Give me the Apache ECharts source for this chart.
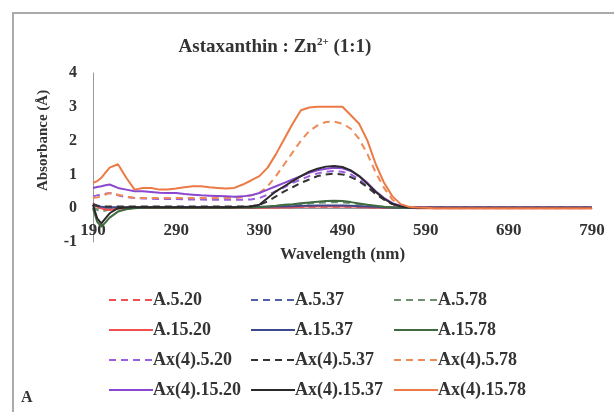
<!DOCTYPE html>
<html>
<head>
<meta charset="utf-8">
<script src="https://cdn.jsdelivr.net/npm/echarts@6/dist/echarts.min.js"></script>
<style>html,body{margin:0;padding:0;background:#fff}#c{width:614px;height:412px}</style>
</head>
<body>
<div id="c"></div>
<script>
// Wavelength (nm)
var wavelengths = [190,195,200,205,210,220,230,240,250,260,270,280,290,300,310,320,330,340,350,360,370,380,390,400,410,420,430,440,450,460,470,480,490,500,510,520,530,540,550,560,570,580,590,600,650,700,750,790];

var A_5_20      = [0.10,0.05,0.02,0.02,0.02,0.02,0.02,0.02,0.02,0.02,0.02,0.02,0.02,0.02,0.02,0.02,0.02,0.02,0.02,0.02,0.02,0.02,0.02,0.02,0.03,0.03,0.03,0.04,0.04,0.04,0.04,0.04,0.04,0.04,0.03,0.03,0.02,0.02,0.01,0.01,0.01,0.01,0.01,0.01,0.01,0.01,0.01,0.01];
var A_5_37      = [0.10,0.06,0.03,0.03,0.02,0.02,0.02,0.02,0.02,0.02,0.02,0.02,0.02,0.02,0.02,0.02,0.02,0.02,0.02,0.02,0.02,0.02,0.03,0.03,0.04,0.04,0.05,0.05,0.06,0.06,0.06,0.06,0.06,0.05,0.05,0.04,0.03,0.02,0.01,0.01,0.01,0.01,0.01,0.01,0.01,0.01,0.01,0.01];
var A_5_78      = [0.05,-0.05,-0.10,-0.07,-0.04,0.00,0.01,0.01,0.01,0.01,0.01,0.01,0.01,0.01,0.01,0.01,0.01,0.01,0.01,0.01,0.02,0.02,0.03,0.04,0.06,0.08,0.10,0.12,0.14,0.16,0.17,0.18,0.17,0.15,0.12,0.08,0.05,0.03,0.02,0.01,0.01,0.01,0.01,0.01,0.01,0.01,0.01,0.01];
var A_15_20     = [0.15,0.05,0.00,-0.04,-0.05,-0.02,0.00,0.01,0.01,0.01,0.01,0.01,0.01,0.01,0.01,0.01,0.01,0.01,0.01,0.01,0.01,0.01,0.01,0.02,0.02,0.03,0.03,0.04,0.05,0.05,0.05,0.05,0.05,0.05,0.04,0.03,0.02,0.02,0.01,0.01,0.01,0.00,0.00,0.00,0.00,0.00,0.00,0.00];
var A_15_37     = [0.12,0.08,0.04,0.03,0.03,0.03,0.03,0.03,0.03,0.03,0.03,0.03,0.03,0.03,0.03,0.03,0.03,0.03,0.03,0.03,0.03,0.03,0.04,0.04,0.05,0.05,0.06,0.07,0.07,0.08,0.08,0.08,0.08,0.07,0.06,0.05,0.04,0.03,0.02,0.01,0.01,0.01,0.01,0.01,0.01,0.01,0.01,0.01];
var A_15_78     = [0.00,-0.40,-0.55,-0.42,-0.28,-0.10,-0.03,0.00,0.01,0.01,0.01,0.01,0.01,0.01,0.01,0.01,0.01,0.01,0.01,0.02,0.02,0.02,0.03,0.05,0.07,0.10,0.12,0.15,0.17,0.19,0.21,0.22,0.21,0.18,0.14,0.10,0.07,0.04,0.02,0.01,0.01,0.01,0.01,0.01,0.01,0.01,0.01,0.01];
var Ax4_5_20    = [0.35,0.38,0.40,0.43,0.45,0.38,0.33,0.30,0.29,0.28,0.27,0.27,0.27,0.26,0.26,0.26,0.25,0.25,0.25,0.25,0.25,0.26,0.30,0.40,0.50,0.62,0.75,0.85,0.95,1.03,1.08,1.10,1.08,1.00,0.85,0.65,0.45,0.27,0.13,0.05,0.02,0.01,0.01,0.01,0.01,0.01,0.01,0.01];
var Ax4_5_37    = [0.10,0.07,0.05,0.05,0.05,0.05,0.05,0.05,0.05,0.05,0.05,0.05,0.05,0.05,0.05,0.05,0.05,0.05,0.05,0.05,0.05,0.06,0.10,0.20,0.35,0.50,0.62,0.75,0.85,0.95,1.00,1.02,1.00,0.92,0.80,0.62,0.42,0.25,0.12,0.05,0.02,0.01,0.01,0.01,0.01,0.01,0.01,0.01];
var Ax4_5_78    = [0.30,0.32,0.35,0.40,0.45,0.40,0.35,0.30,0.30,0.30,0.30,0.30,0.30,0.30,0.30,0.30,0.30,0.30,0.30,0.30,0.33,0.38,0.45,0.65,0.95,1.30,1.65,2.00,2.28,2.45,2.55,2.56,2.50,2.35,2.05,1.60,1.05,0.60,0.25,0.08,0.02,0.01,0.01,0.00,0.00,0.00,0.00,0.00];
var Ax4_15_20   = [0.60,0.63,0.65,0.68,0.70,0.60,0.55,0.50,0.50,0.48,0.46,0.45,0.45,0.42,0.40,0.38,0.37,0.36,0.35,0.34,0.35,0.38,0.45,0.55,0.65,0.75,0.85,0.95,1.05,1.12,1.17,1.20,1.18,1.10,0.95,0.75,0.50,0.30,0.15,0.07,0.03,0.02,0.02,0.02,0.02,0.02,0.02,0.02];
var Ax4_15_37   = [0.10,-0.30,-0.45,-0.30,-0.15,0.00,0.02,0.03,0.03,0.03,0.03,0.03,0.03,0.03,0.03,0.03,0.03,0.03,0.03,0.03,0.04,0.05,0.10,0.30,0.50,0.65,0.80,0.95,1.08,1.17,1.23,1.25,1.22,1.12,0.95,0.72,0.48,0.28,0.13,0.05,0.02,0.01,0.01,0.01,0.01,0.01,0.01,0.01];
var Ax4_15_78   = [0.75,0.80,0.90,1.05,1.20,1.30,0.90,0.55,0.60,0.60,0.55,0.55,0.58,0.62,0.65,0.65,0.62,0.60,0.58,0.60,0.70,0.82,0.95,1.20,1.60,2.05,2.50,2.90,2.98,3.00,3.00,3.00,3.00,2.75,2.50,2.00,1.30,0.75,0.35,0.12,0.04,0.02,0.01,0.00,0.00,0.00,0.00,0.00];

var seriesNames = ['A.5.20','A.5.37','A.5.78','A.15.20','A.15.37','A.15.78','Ax(4).5.20','Ax(4).5.37','Ax(4).5.78','Ax(4).15.20','Ax(4).15.37','Ax(4).15.78'];
var seriesValues = [A_5_20,A_5_37,A_5_78,A_15_20,A_15_37,A_15_78,Ax4_5_20,Ax4_5_37,Ax4_5_78,Ax4_15_20,Ax4_15_37,Ax4_15_78];
var seriesColors = ['#f25050','#5060a8','#6e906e','#f25050','#3c4a8c','#3f6b3f','#9a5ee0','#333333','#ee8a55','#8a48d0','#2a2a2a','#ec7a45'];
var seriesDashed = [true,true,true,false,false,false,true,true,true,false,false,false];

var FONT = '"Liberation Serif","DejaVu Serif",serif';

var series = seriesNames.map(function (n, i) {
  return {
    name: n,
    type: 'line',
    symbol: 'none',
    smooth: false,
    z: 2 + i,
    data: wavelengths.map(function (w, k) { return [w, seriesValues[i][k]]; }),
    lineStyle: { color: seriesColors[i], width: 2, type: seriesDashed[i] ? [7, 5] : 'solid' },
    itemStyle: { color: seriesColors[i] }
  };
});

function legendCol(left, names) {
  return {
    left: left, top: 286, orient: 'vertical',
    itemWidth: 44, itemHeight: 14, itemGap: 12,
    itemStyle: { opacity: 0 },
    data: names,
    textStyle: { fontFamily: FONT, fontWeight: 'bold', fontSize: 18, color: '#333', padding: [0,0,0,-5] },
    selectedMode: false
  };
}

var chart = echarts.init(document.getElementById('c'), null, { renderer: 'canvas' });
chart.setOption({
  animation: false,
  backgroundColor: '#fff',
  title: {
    text: 'Astaxanthin : Zn{sup|2+} (1:1)',
    left: 270, top: 32, textAlign: 'center',
    textStyle: {
      fontFamily: FONT, fontWeight: 'bold', fontSize: 19, color: '#333',
      rich: { sup: { fontFamily: FONT, fontWeight: 'bold', fontSize: 11, color: '#333', verticalAlign: 'top', padding: [0,0,10,0] } }
    }
  },
  grid: { left: 93, right: 22, top: 73, bottom: 170, containLabel: false },
  legend: [
    legendCol(103, ['A.5.20','A.15.20','Ax(4).5.20','Ax(4).15.20']),
    legendCol(245, ['A.5.37','A.15.37','Ax(4).5.37','Ax(4).15.37']),
    legendCol(388, ['A.5.78','A.15.78','Ax(4).5.78','Ax(4).15.78'])
  ],
  xAxis: {
    type: 'value', min: 190, max: 790, interval: 100,
    offset: -33.5,
    name: 'Wavelength (nm)', nameLocation: 'middle', nameGap: 38,
    nameTextStyle: { fontFamily: FONT, fontWeight: 'bold', fontSize: 17, color: '#333' },
    axisLine: { onZero: false, lineStyle: { color: '#999', width: 1 } },
    axisTick: { show: false },
    splitLine: { show: false },
    axisLabel: { fontFamily: FONT, fontWeight: 'bold', fontSize: 17, color: '#333', margin: 14 }
  },
  yAxis: {
    type: 'value', min: -1, max: 4, interval: 1,
    name: 'Absorbance (Å)', nameLocation: 'middle', nameGap: 42, nameRotate: 90,
    nameTextStyle: { fontFamily: FONT, fontWeight: 'bold', fontSize: 15, color: '#333', padding: [0,0,0,34] },
    axisLine: { show: true, onZero: false, lineStyle: { color: '#999', width: 1 } },
    axisTick: { show: false },
    splitLine: { show: false },
    axisLabel: { fontFamily: FONT, fontWeight: 'bold', fontSize: 16, color: '#333', margin: 16 }
  },
  graphic: [
    { type: 'rect', shape: { x: 13, y: 13, width: 700, height: 500 }, style: { fill: 'none', stroke: '#aaa', lineWidth: 2 }, silent: true },
    { type: 'text', left: 21, top: 390, style: { text: 'A', font: 'bold 16px "Liberation Serif", serif', fill: '#333' } }
  ],
  series: series
});
</script>
</body>
</html>
